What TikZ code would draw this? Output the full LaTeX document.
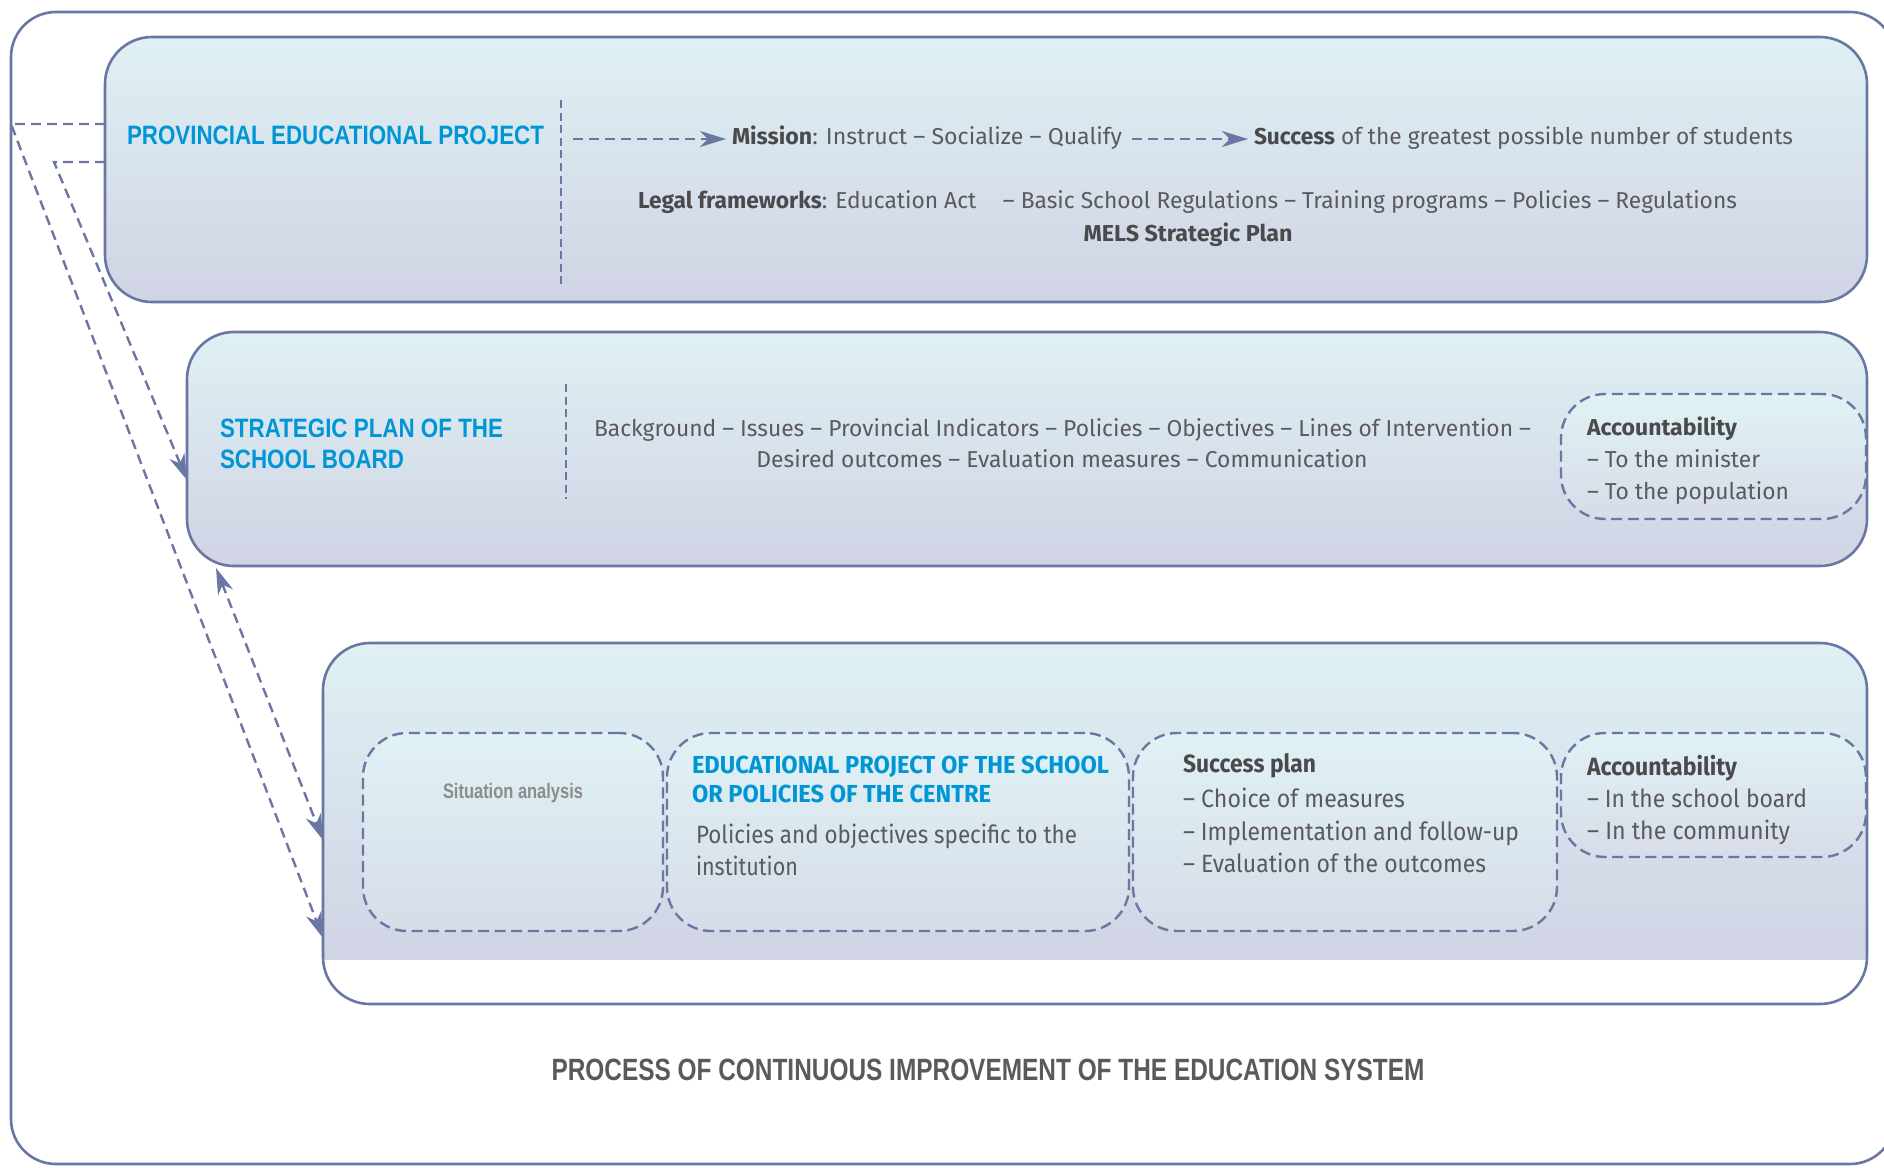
\documentclass[tikz,border=0pt]{standalone}
\usepackage{fontspec}
\setmainfont{Fira Sans}
\newfontfamily\condf{Liberation Sans}
\usetikzlibrary{arrows.meta,fit}
\definecolor{lineC}{HTML}{6A77A3}
\definecolor{blueT}{HTML}{0096D6}
\definecolor{textC}{HTML}{5A5A5C}
\definecolor{boldC}{HTML}{4A4A4C}
\definecolor{graySA}{HTML}{8C8C8C}
\definecolor{topC}{HTML}{DFF1F4}
\definecolor{botC}{HTML}{D0D3E4}
\definecolor{itopC}{HTML}{E0F2F5}
\definecolor{ibotC}{HTML}{D7DCE8}
\newcommand{\fw}[2]{\resizebox{#1}{\height}{#2}}
\newcommand{\bb}[1]{{\bfseries\color{boldC}#1}}
\begin{document}
\begin{tikzpicture}[x=0.5pt,y=-0.5pt,
  bigbox/.style={draw=lineC, line width=1.3pt, rounded corners=23.5pt, inner sep=0pt, outer sep=0pt},
  shadebox/.style={top color=topC, bottom color=botC},
  dbox/.style={draw=lineC, line width=1.2pt, dash pattern=on 5.5pt off 2.8pt, rounded corners=22pt, inner sep=0pt, outer sep=0pt, top color=itopC, bottom color=ibotC},
  divider/.style={draw=lineC, line width=1.2pt, dash pattern=on 4pt off 2.3pt},
  conn/.style={draw=lineC, line width=1.2pt, dash pattern=on 5pt off 3pt},
  tipa/.style={-{Stealth[length=13pt,width=8pt,inset=4pt]}},
  tipb/.style={{Stealth[length=13pt,width=8pt,inset=4pt]}-{Stealth[length=13pt,width=8pt,inset=4pt]}},
  txt/.style={text=textC, inner sep=0pt, outer sep=0pt, font=\fontsize{11.5pt}{14pt}\selectfont},
  txtc/.style={text=textC, inner sep=0pt, outer sep=0pt, font=\fontsize{11.5pt}{14pt}\selectfont, text height=0.75em, text depth=0.25em},
  txtb/.style={text=textC, inner sep=0pt, outer sep=0pt, font=\fontsize{12.5pt}{15pt}\selectfont},
  ttl/.style={text=blueT, inner sep=0pt, outer sep=0pt, font=\condf\bfseries\fontsize{13.3pt}{16pt}\selectfont},
  ttlb/.style={text=blueT, inner sep=0pt, outer sep=0pt, font=\bfseries\fontsize{12.3pt}{15pt}\selectfont},
  sat/.style={text=graySA, inner sep=0pt, outer sep=0pt, font=\condf\bfseries\fontsize{10.5pt}{12pt}\selectfont},
  capt/.style={text=textC, inner sep=0pt, outer sep=0pt, font=\condf\bfseries\fontsize{15.4pt}{18pt}\selectfont}
]
\useasboundingbox (0,0) rectangle (1884,1167);

% outer frame
\node[fit={(11,12) (1895,1164)}, draw=lineC, line width=1.3pt, rounded corners=22.5pt, inner sep=0pt, outer sep=0pt] (frame) {};

% box 1
\node[fit={(105,37) (1867,302)}, bigbox, shadebox] (b1) {};
% box 2
\node[fit={(187,332) (1867,566)}, bigbox, shadebox] (b2) {};
% box 3
\begin{scope}
  \clip[rounded corners=23.5pt] (323,643) rectangle (1867,1004);
  \shade[top color=topC, bottom color=botC] (323,643) rectangle (1867,959);
\end{scope}
\node[fit={(323,643) (1867,1004)}, bigbox] (b3) {};

% inner dashed boxes
\node[fit={(1561,394) (1866,519)}, dbox] (acc2) {};
\node[fit={(363,733) (663,931)}, dbox] (sa) {};
\node[fit={(667,733) (1129,931)}, dbox] (ep) {};
\node[fit={(1133,733) (1557,931)}, dbox] (sp) {};
\node[fit={(1561,733) (1866,857)}, dbox] (acc3) {};

% dividers
\coordinate (d1t) at (561,100); \coordinate (d1b) at (561,284);
\coordinate (d2t) at (566,384); \coordinate (d2b) at (566,499);
\draw[divider] (d1t) -- (d1b);
\draw[divider] (d2t) -- (d2b);

% box 1 texts
\node[ttl, anchor=base west] (t1) at (127,144) {\fw{208.5pt}{PROVINCIAL EDUCATIONAL PROJECT}};
\node[txtc, anchor=base west] (mission) at (732,144) {\fw{195pt}{\bb{Mission}: Instruct – Socialize – Qualify}};
\node[txtc, anchor=base west] (success) at (1254,144) {\fw{269.5pt}{\bb{Success} of the greatest possible number of students}};
\node[txt, anchor=base west] (legal) at (638,208) {\fw{549.5pt}{\bb{Legal frameworks}: Education Act\hspace{0.9em} – Basic School Regulations – Training programs – Policies – Regulations}};
\node[txt, anchor=base] (mels) at (1188,241) {\fw{104.5pt}{\bb{MELS Strategic Plan}}};

\coordinate (a1s) at (573,0);
\draw[conn, tipa] (a1s |- mission.west) -- ([xshift=-3pt]mission.west);
\draw[conn, tipa] ([xshift=5pt]mission.east) -- ([xshift=-3pt]success.west);

% box 2 texts
\node[ttl, anchor=base west] (t2a) at (220,437) {\fw{141.5pt}{STRATEGIC PLAN OF THE}};
\node[ttl, anchor=base west] (t2b) at (220,468) {\fw{92pt}{SCHOOL BOARD}};
\node[txt, anchor=base] (bg1) at (1062.5,436) {\fw{468.5pt}{Background – Issues – Provincial Indicators – Policies – Objectives – Lines of Intervention –}};
\node[txt, anchor=base] (bg2) at (1062,467) {\fw{305.5pt}{Desired outcomes – Evaluation measures – Communication}};
\node[txt, anchor=base west] (ac2a) at (1587,435) {\fw{75pt}{\bb{Accountability}}};
\node[txt, anchor=base west] (ac2b) at (1587,467) {\fw{86.5pt}{– To the minister}};
\node[txt, anchor=base west] (ac2c) at (1587,499) {\fw{101pt}{– To the population}};

% box 3 texts
\node[sat, anchor=base] (sat) at (513,798) {\fw{70pt}{Situation analysis}};
\node[ttlb, anchor=base west] (ep1) at (692,773) {\fw{208.5pt}{EDUCATIONAL PROJECT OF THE SCHOOL}};
\node[ttlb, anchor=base west] (ep2) at (692,802) {\fw{149.5pt}{OR POLICIES OF THE CENTRE}};
\node[txtb, anchor=base west] (ep3) at (696,843) {\fw{190.5pt}{Policies and objectives specific to the}};
\node[txtb, anchor=base west] (ep4) at (696,875) {\fw{51pt}{institution}};
\node[txtb, anchor=base west] (sp1) at (1183,772) {\fw{66.5pt}{\bb{Success plan}}};
\node[txtb, anchor=base west] (sp2) at (1183,807) {\fw{111pt}{– Choice of measures}};
\node[txtb, anchor=base west] (sp3) at (1183,840) {\fw{168pt}{– Implementation and follow-up}};
\node[txtb, anchor=base west] (sp4) at (1183,872) {\fw{151.5pt}{– Evaluation of the outcomes}};
\node[txtb, anchor=base west] (ac3a) at (1587,775) {\fw{75pt}{\bb{Accountability}}};
\node[txtb, anchor=base west] (ac3b) at (1587,807) {\fw{110pt}{– In the school board}};
\node[txtb, anchor=base west] (ac3c) at (1587,839) {\fw{101.5pt}{– In the community}};

% caption
\node[capt, anchor=base] (cap) at (988,1080) {\fw{436.5pt}{PROCESS OF CONTINUOUS IMPROVEMENT OF THE EDUCATION SYSTEM}};

% connectors
\coordinate (ya) at (0,124);
\coordinate (yb) at (0,162);
\coordinate (bturn) at (54,162);
\coordinate (cTop) at (216,568);
\draw[conn, tipa] (b1.west |- ya) -- (frame.west |- ya) -- (b3.west |- 0,938);
\draw[conn, tipa] (b1.west |- yb) -- (bturn) -- (b2.west |- 0,480);
\draw[conn, tipb] (cTop) -- (b3.west |- 0,840);
\end{tikzpicture}
\end{document}
